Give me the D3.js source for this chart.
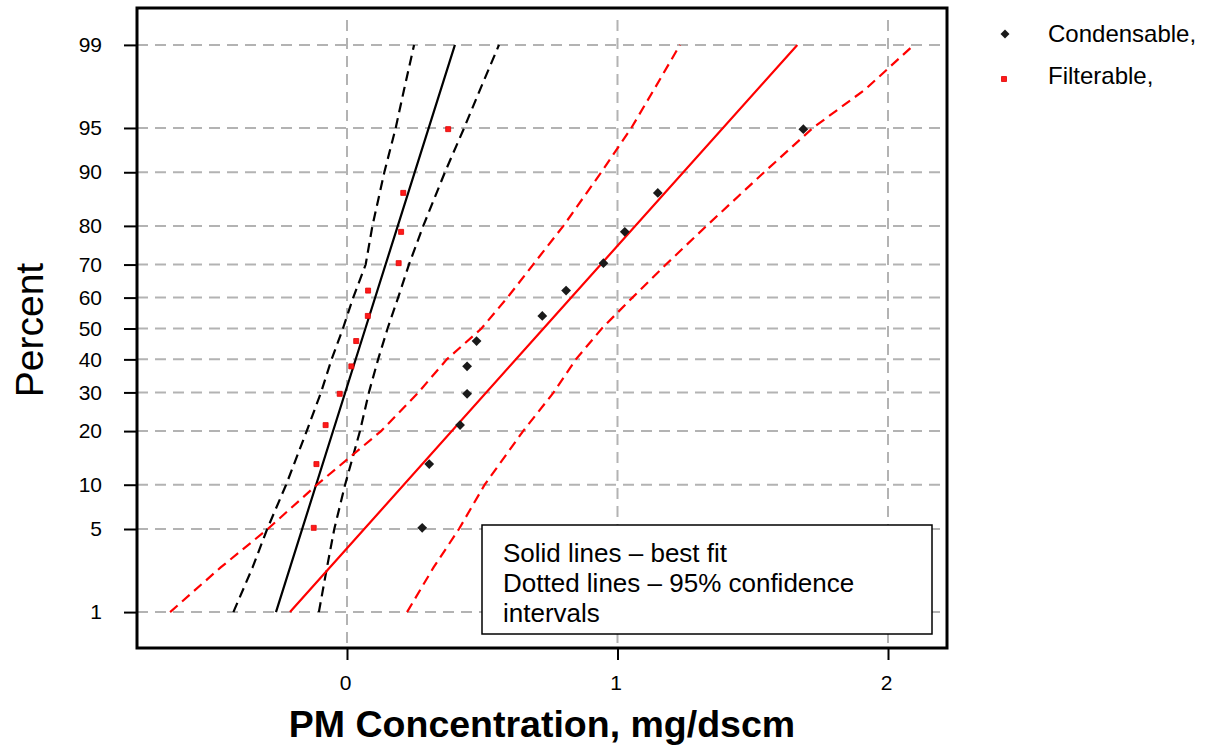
<!DOCTYPE html>
<html>
<head>
<meta charset="utf-8">
<script src="https://cdn.jsdelivr.net/npm/d3@7"></script>
<style>
  html, body { margin: 0; padding: 0; background: #fff; }
  svg { display: block; }
  text { font-family: "Liberation Sans", Arial, Helvetica, sans-serif; }
</style>
</head>
<body>
<svg id="chart" width="1210" height="748"></svg>
<script>
// ---------------- DATA ----------------
const yTickPct = [1, 5, 10, 20, 30, 40, 50, 60, 70, 80, 90, 95, 99];
const xTicks = [0, 1, 2];

// plotted points (percent rank, concentration)
const condPct = [5.1, 13.3, 21.4, 29.6, 37.8, 45.9, 54.1, 62.2, 70.4, 78.6, 86.7, 94.9];
const condVal = [0.278, 0.304, 0.418, 0.444, 0.444, 0.479, 0.722, 0.810, 0.948, 1.027, 1.149, 1.687];
const filtPct = [5.1, 13.3, 21.4, 29.6, 37.8, 45.9, 54.1, 62.2, 70.4, 78.6, 86.7, 94.9];
const filtVal = [-0.123, -0.113, -0.079, -0.027, 0.016, 0.034, 0.077, 0.078, 0.191, 0.200, 0.208, 0.374];

// best-fit lines
const fitPct = [1, 50, 99];
const condFit = [-0.2107, 0.7264, 1.6647];
const filtFit = [-0.2625, 0.068, 0.399];

// 95% confidence interval curves
const ciPct  = [1, 2.5, 5, 10, 20, 30, 40, 50, 60, 70, 80, 90, 95, 97.5, 99];
const filtLo = [-0.420, -0.349, -0.295, -0.225, -0.149, -0.096, -0.057, -0.015, 0.023, 0.069, 0.094, 0.138, 0.180, 0.211, 0.248];
const filtHi = [-0.104, -0.074, -0.047, -0.007, 0.048, 0.081, 0.115, 0.150, 0.189, 0.229, 0.282, 0.362, 0.433, 0.492, 0.562];
const condLo = [-0.654, -0.467, -0.293, -0.111, 0.126, 0.264, 0.369, 0.497, 0.593, 0.688, 0.800, 0.940, 1.051, 1.135, 1.231];
const condHi = [0.222, 0.320, 0.414, 0.509, 0.651, 0.764, 0.846, 0.942, 1.055, 1.179, 1.329, 1.542, 1.722, 1.915, 2.096];

const seriesNames = ["Condensable,", "Filterable,"];
const noteLines = ["Solid lines \u2013 best fit", "Dotted lines \u2013 95% confidence", "intervals"];

// ---------------- normal quantile (probability scale) ----------------
function probit(p) {
  const a = [-3.969683028665376e+01, 2.209460984245205e+02, -2.759285104469687e+02, 1.383577518672690e+02, -3.066479806614716e+01, 2.506628277459239e+00];
  const b = [-5.447609879822406e+01, 1.615858368580409e+02, -1.556989798598866e+02, 6.680131188771972e+01, -1.328068155022803e+01];
  const c = [-7.784894002430293e-03, -3.223964580411365e-01, -2.400758277161838e+00, -2.549732943483581e+00, 4.374664141464968e+00, 2.938163982698783e+00];
  const d = [7.784695709041462e-03, 3.224671290700398e-01, 2.445134137142996e+00, 3.754408661907416e+00];
  const plow = 0.02425, phigh = 1 - plow;
  let q, r;
  if (p < plow) {
    q = Math.sqrt(-2 * Math.log(p));
    return (((((c[0]*q+c[1])*q+c[2])*q+c[3])*q+c[4])*q+c[5]) / ((((d[0]*q+d[1])*q+d[2])*q+d[3])*q+1);
  } else if (p <= phigh) {
    q = p - 0.5; r = q*q;
    return (((((a[0]*r+a[1])*r+a[2])*r+a[3])*r+a[4])*r+a[5])*q / (((((b[0]*r+b[1])*r+b[2])*r+b[3])*r+b[4])*r+1);
  } else {
    q = Math.sqrt(-2 * Math.log(1 - p));
    return -(((((c[0]*q+c[1])*q+c[2])*q+c[3])*q+c[4])*q+c[5]) / ((((d[0]*q+d[1])*q+d[2])*q+d[3])*q+1);
  }
}

// ---------------- LAYOUT ----------------
const svg = d3.select("#chart");
const L = 137, R = 947, T = 8, B = 648;

const x = d3.scaleLinear().domain([-0.7763, 2.2181]).range([L, R]);
const yz = d3.scaleLinear().domain([-2.621, 2.629]).range([B, T]);
const y = pct => yz(probit(pct / 100));

const gridColor = "#b3b3b3";

// grid
const grid = svg.append("g");
grid.selectAll("line.h").data(yTickPct).join("line")
  .attr("x1", L).attr("x2", R)
  .attr("y1", d => y(d)).attr("y2", d => y(d))
  .attr("stroke", gridColor).attr("stroke-width", 2).attr("stroke-dasharray", "11,7");
grid.selectAll("line.v").data(xTicks).join("line")
  .attr("x1", d => x(d)).attr("x2", d => x(d))
  .attr("y1", T + 12).attr("y2", B)
  .attr("stroke", gridColor).attr("stroke-width", 2).attr("stroke-dasharray", "11,7");

// axes
const yAxis = d3.axisLeft(yz)
  .tickValues(yTickPct.map(p => probit(p / 100)))
  .tickFormat((d, i) => yTickPct[i])
  .tickSize(13).tickPadding(22);
const gy = svg.append("g").attr("transform", `translate(${L},0)`).call(yAxis);
gy.select(".domain").remove();
gy.selectAll(".tick line").attr("stroke", "#000").attr("stroke-width", 2);
gy.selectAll(".tick text").attr("font-size", 21).attr("fill", "#000")
  .style("font-family", "'Liberation Sans', Arial, sans-serif");

const xAxis = d3.axisBottom(x).tickValues(xTicks).tickFormat(d3.format("d")).tickSize(12);
const gx = svg.append("g").attr("transform", `translate(0,${B})`).call(xAxis);
gx.select(".domain").remove();
gx.selectAll(".tick line").attr("stroke", "#000").attr("stroke-width", 2);
gx.selectAll(".tick text").attr("font-size", 21).attr("fill", "#000")
  .attr("y", 42).attr("dy", 0).attr("dx", -2)
  .style("font-family", "'Liberation Sans', Arial, sans-serif");

// lines
const line = d3.line().x(d => x(d[1])).y(d => y(d[0]));
const zipv = (p, v) => p.map((pp, i) => [pp, v[i]]);
const plot = svg.append("g");

function drawLine(pcts, vals, color, dashed) {
  plot.append("path").datum(zipv(pcts, vals))
    .attr("d", line).attr("fill", "none")
    .attr("stroke", color).attr("stroke-width", 2.2)
    .attr("stroke-dasharray", dashed ? "10,6" : null);
}
drawLine(ciPct, filtLo, "#000", true);
drawLine(ciPct, filtHi, "#000", true);
drawLine(fitPct, filtFit, "#000", false);
drawLine(ciPct, condLo, "#ff0000", true);
drawLine(ciPct, condHi, "#ff0000", true);
drawLine(fitPct, condFit, "#ff0000", false);

// points
const diamond = d3.symbol().type(d3.symbolSquare).size(48);
const square = d3.symbol().type(d3.symbolSquare).size(25);
plot.selectAll("path.cond").data(zipv(condPct, condVal)).join("path")
  .attr("class", "cond")
  .attr("d", diamond)
  .attr("transform", d => `translate(${x(d[1])},${y(d[0])}) rotate(45)`)
  .attr("fill", "#1a1a1a");
plot.selectAll("path.filt").data(zipv(filtPct, filtVal)).join("path")
  .attr("class", "filt")
  .attr("d", square)
  .attr("transform", d => `translate(${x(d[1])},${y(d[0])})`)
  .attr("fill", "#ff1a1a").attr("stroke", "#e00000").attr("stroke-width", 0.8);

// frame
svg.append("rect").attr("x", L).attr("y", T).attr("width", R - L).attr("height", B - T)
  .attr("fill", "none").attr("stroke", "#000").attr("stroke-width", 3);

// note box
const note = svg.append("g");
note.append("rect").attr("x", 482).attr("y", 525).attr("width", 450).attr("height", 109)
  .attr("fill", "#fff").attr("stroke", "#000").attr("stroke-width", 1.5);
note.selectAll("text").data(noteLines).join("text")
  .attr("x", 503).attr("y", (d, i) => 561.5 + i * 30)
  .attr("font-size", 26).attr("fill", "#000").text(d => d);

// legend
const leg = svg.append("g");
leg.append("path").attr("d", d3.symbol().type(d3.symbolSquare).size(40))
  .attr("transform", "translate(1005,34) rotate(45)").attr("fill", "#1a1a1a");
leg.append("path").attr("d", square)
  .attr("transform", "translate(1004,79)").attr("fill", "#ff1a1a").attr("stroke", "#e00000").attr("stroke-width", 0.8);
leg.selectAll("text").data(seriesNames).join("text")
  .attr("x", 1048).attr("y", (d, i) => 41.5 + i * 42)
  .attr("font-size", 24).attr("fill", "#000").text(d => d);

// axis titles
svg.append("text").attr("transform", "translate(43,330) rotate(-90)")
  .attr("text-anchor", "middle").attr("font-size", 39).attr("fill", "#000").text("Percent");
svg.append("text").attr("x", 542).attr("y", 737)
  .attr("text-anchor", "middle").attr("font-size", 37.5).attr("font-weight", "bold")
  .attr("fill", "#000").text("PM Concentration, mg/dscm");
</script>
</body>
</html>
